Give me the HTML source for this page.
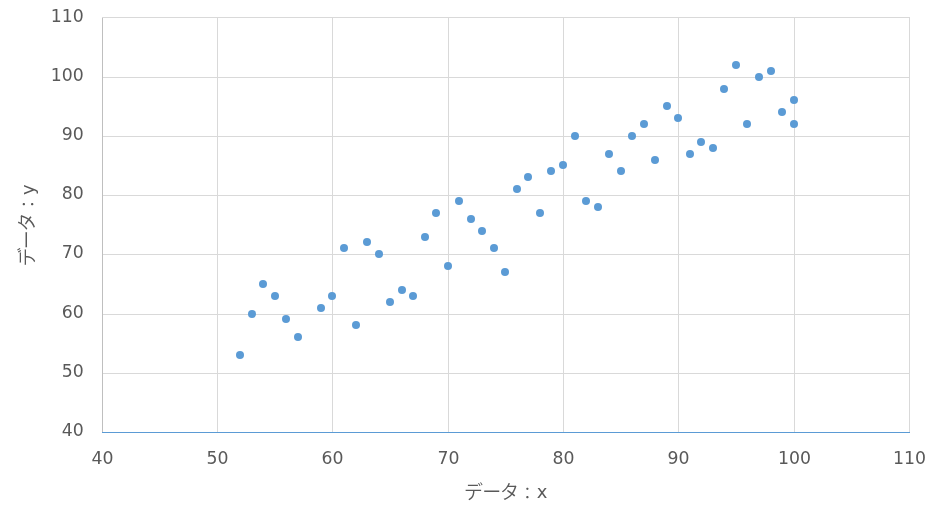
<!DOCTYPE html>
<html><head><meta charset="utf-8"><style>
html,body{margin:0;padding:0;background:#fff;}
body{width:937px;height:524px;overflow:hidden;}
svg{display:block;}
.t{font-family:"DejaVu Sans","Liberation Sans",sans-serif;font-size:17.3px;fill:#595959;}
.j{font-family:"DejaVu Sans","Noto Sans CJK JP",sans-serif;font-size:19px;fill:#595959;font-weight:350;}
.j .l{font-weight:400;font-size:18px;}
.j .c{font-size:16.3px;}
</style></head><body>
<svg style="will-change:transform" width="937" height="524" viewBox="0 0 937 524">
<rect width="937" height="524" fill="#fff"/>
<g stroke="#d9d9d9" stroke-width="1" shape-rendering="crispEdges">
<line x1="217.5" y1="17" x2="217.5" y2="432"/>
<line x1="332.5" y1="17" x2="332.5" y2="432"/>
<line x1="448.5" y1="17" x2="448.5" y2="432"/>
<line x1="563.5" y1="17" x2="563.5" y2="432"/>
<line x1="678.5" y1="17" x2="678.5" y2="432"/>
<line x1="794.5" y1="17" x2="794.5" y2="432"/>
<line x1="909.5" y1="17" x2="909.5" y2="432"/>
<line x1="102" y1="17.5" x2="910" y2="17.5"/>
<line x1="102" y1="77.5" x2="910" y2="77.5"/>
<line x1="102" y1="136.5" x2="910" y2="136.5"/>
<line x1="102" y1="195.5" x2="910" y2="195.5"/>
<line x1="102" y1="254.5" x2="910" y2="254.5"/>
<line x1="102" y1="314.5" x2="910" y2="314.5"/>
<line x1="102" y1="373.5" x2="910" y2="373.5"/>
</g>
<line x1="102.5" y1="18" x2="102.5" y2="432" stroke="#bfbfbf" stroke-width="1" shape-rendering="crispEdges"/>
<line x1="102" y1="432.5" x2="910" y2="432.5" stroke="#5b9bd5" stroke-width="1" shape-rendering="crispEdges"/>
<g fill="#5b9bd5">
<circle cx="240" cy="355" r="4"/>
<circle cx="252" cy="314" r="4"/>
<circle cx="263" cy="284" r="4"/>
<circle cx="275" cy="296" r="4"/>
<circle cx="286" cy="319" r="4"/>
<circle cx="298" cy="337" r="4"/>
<circle cx="321" cy="308" r="4"/>
<circle cx="332" cy="296" r="4"/>
<circle cx="344" cy="248" r="4"/>
<circle cx="356" cy="325" r="4"/>
<circle cx="367" cy="242" r="4"/>
<circle cx="379" cy="254" r="4"/>
<circle cx="390" cy="302" r="4"/>
<circle cx="402" cy="290" r="4"/>
<circle cx="413" cy="296" r="4"/>
<circle cx="425" cy="237" r="4"/>
<circle cx="436" cy="213" r="4"/>
<circle cx="448" cy="266" r="4"/>
<circle cx="459" cy="201" r="4"/>
<circle cx="471" cy="219" r="4"/>
<circle cx="482" cy="231" r="4"/>
<circle cx="494" cy="248" r="4"/>
<circle cx="505" cy="272" r="4"/>
<circle cx="517" cy="189" r="4"/>
<circle cx="528" cy="177" r="4"/>
<circle cx="540" cy="213" r="4"/>
<circle cx="551" cy="171" r="4"/>
<circle cx="563" cy="165" r="4"/>
<circle cx="575" cy="136" r="4"/>
<circle cx="586" cy="201" r="4"/>
<circle cx="598" cy="207" r="4"/>
<circle cx="609" cy="154" r="4"/>
<circle cx="621" cy="171" r="4"/>
<circle cx="632" cy="136" r="4"/>
<circle cx="644" cy="124" r="4"/>
<circle cx="655" cy="160" r="4"/>
<circle cx="667" cy="106" r="4"/>
<circle cx="678" cy="118" r="4"/>
<circle cx="690" cy="154" r="4"/>
<circle cx="701" cy="142" r="4"/>
<circle cx="713" cy="148" r="4"/>
<circle cx="724" cy="89" r="4"/>
<circle cx="736" cy="65" r="4"/>
<circle cx="747" cy="124" r="4"/>
<circle cx="759" cy="77" r="4"/>
<circle cx="771" cy="71" r="4"/>
<circle cx="782" cy="112" r="4"/>
<circle cx="794" cy="100" r="4"/>
<circle cx="794" cy="124" r="4"/>
</g>
<g class="t" text-anchor="end">
<text x="83.7" y="21.55">110</text>
<text x="83.7" y="80.75">100</text>
<text x="83.7" y="139.95">90</text>
<text x="83.7" y="199.15">80</text>
<text x="83.7" y="258.35">70</text>
<text x="83.7" y="317.55">60</text>
<text x="83.7" y="376.75">50</text>
<text x="83.7" y="435.95">40</text>
</g>
<g class="t" text-anchor="middle">
<text x="102.5" y="463.5">40</text>
<text x="217.5" y="463.5">50</text>
<text x="332.5" y="463.5">60</text>
<text x="448.5" y="463.5">70</text>
<text x="563.5" y="463.5">80</text>
<text x="678.5" y="463.5">90</text>
<text x="794.5" y="463.5">100</text>
<text x="909.5" y="463.5">110</text>
</g>
<text class="j" x="463.9 482.3 500.1" y="499">データ<tspan class="c" x="519.25" y="499.1">：</tspan><tspan class="l" x="536.8" y="498">x</tspan></text>
<text class="j" transform="translate(34.2,224.5) rotate(-90)" x="-42.0 -24.63 -6.9" y="0">データ<tspan class="c" x="12.25" y="0.1">：</tspan><tspan class="l" x="29.6" y="-0.6">y</tspan></text>
</svg></body></html>
